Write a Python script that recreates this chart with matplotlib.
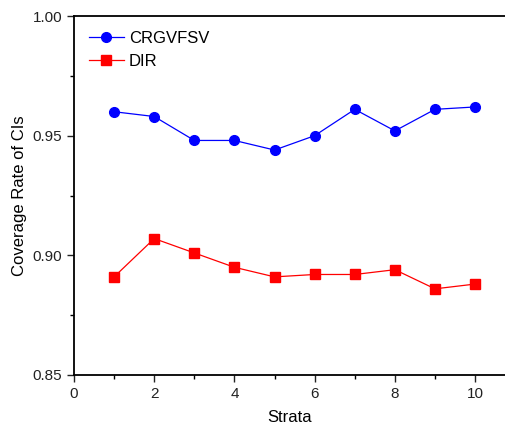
import matplotlib
matplotlib.use("Agg")
import matplotlib.pyplot as plt
from matplotlib.ticker import MultipleLocator

plt.rcParams['font.family'] = ['Liberation Sans', 'DejaVu Sans']

# data
strata = [1, 2, 3, 4, 5, 6, 7, 8, 9, 10]
crgvfsv = [0.960, 0.958, 0.948, 0.948, 0.944, 0.950, 0.961, 0.952, 0.961, 0.962]
dir_vals = [0.891, 0.907, 0.901, 0.895, 0.891, 0.892, 0.892, 0.894, 0.886, 0.888]

fig = plt.figure(figsize=(5.06, 4.25), dpi=100)
ax = fig.add_axes([74 / 506, 50 / 425, 432 / 506, 359 / 425])

ax.plot(strata, crgvfsv, color="blue", marker="o", markersize=7,
        linewidth=0.9, label="CRGVFSV")
ax.plot(strata, dir_vals, color="red", marker="s", markersize=6.5,
        linewidth=0.9, label="DIR")

ax.set_xlim(0, 10.77)
ax.set_ylim(0.85, 1.00)
ax.xaxis.set_major_locator(MultipleLocator(2))
ax.xaxis.set_minor_locator(MultipleLocator(1))
ax.yaxis.set_major_locator(MultipleLocator(0.05))
ax.yaxis.set_minor_locator(MultipleLocator(0.025))
ax.yaxis.set_major_formatter(plt.FormatStrFormatter("%.2f"))

ax.spines["right"].set_visible(False)
for s in ["left", "bottom", "top"]:
    ax.spines[s].set_linewidth(1.3)

ax.tick_params(which="major", direction="out", length=5, width=1, labelsize=11,
               colors="#222222")
ax.tick_params(which="minor", direction="out", length=3, width=1)
ax.tick_params(axis="x", pad=4)

ax.set_xlabel("Strata", fontsize=12, labelpad=6)
ax.set_ylabel("Coverage Rate of CIs", fontsize=12, labelpad=4)

ax.legend(loc="upper left", frameon=False, fontsize=12, handlelength=2.1,
          handletextpad=0.3, labelspacing=0.45, borderaxespad=0.5)

fig.savefig("out.png", dpi=100)
